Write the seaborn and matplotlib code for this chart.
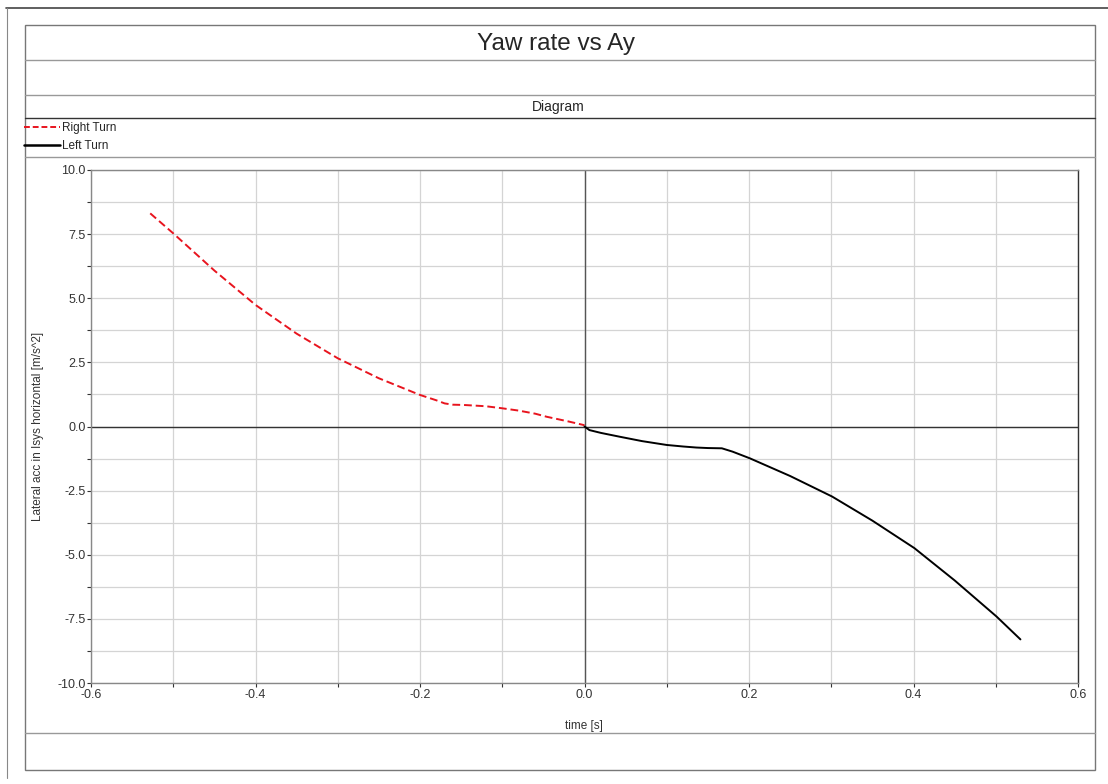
import pandas as pd
import seaborn as sns
import matplotlib.pyplot as plt
from matplotlib.patches import Rectangle
from matplotlib.lines import Line2D
from matplotlib.ticker import MultipleLocator

# Right turn (red dashed)
right_time = [-0.528, -0.50, -0.45, -0.40, -0.35, -0.30, -0.25, -0.20, -0.18,
              -0.17, -0.16, -0.147, -0.12, -0.10, -0.08, -0.06, -0.046, -0.02, 0.0]
right_ay = [8.31, 7.53, 6.08, 4.74, 3.62, 2.66, 1.88, 1.23, 1.02,
            0.90, 0.85, 0.84, 0.79, 0.71, 0.62, 0.50, 0.38, 0.20, 0.05]

# Left turn (black solid)
left_time = [0.0, 0.006, 0.02, 0.043, 0.07, 0.10, 0.12, 0.136, 0.15, 0.167,
             0.18, 0.201, 0.25, 0.301, 0.35, 0.401, 0.45, 0.501, 0.53]
left_ay = [0.0, -0.14, -0.25, -0.40, -0.57, -0.72, -0.78, -0.82, -0.84, -0.85,
           -0.98, -1.24, -1.93, -2.73, -3.67, -4.74, -6.00, -7.41, -8.30]

series_names = ["Right Turn", "Left Turn"]
series_colors = {"Right Turn": "#e8141e", "Left Turn": "black"}

W, H = 1108, 784


def fx(px):
    return px / W


def fy(py):
    return 1 - py / H


sns.set_theme(style="whitegrid")
plt.rcParams["font.family"] = ["Liberation Sans", "DejaVu Sans"]

fig = plt.figure(figsize=(W / 100, H / 100), dpi=100)
fig.patch.set_facecolor("white")

# outer frame and bands
fig.add_artist(Line2D([fx(6), fx(1108)], [fy(8), fy(8)], color="#444444", lw=1.2))
fig.add_artist(Line2D([fx(7), fx(7)], [fy(8), fy(778)], color="#888888", lw=0.8))
fig.add_artist(Rectangle((fx(25), fy(770)), fx(1095) - fx(25), fy(25) - fy(770),
                         fill=False, edgecolor="#777777", lw=1.0))
for py, col in [(60, "#999999"), (95, "#999999"), (118, "#333333"),
                (157, "#999999"), (733, "#999999")]:
    fig.add_artist(Line2D([fx(25), fx(1095)], [fy(py), fy(py)], color=col, lw=1.0))

fig.text(fx(556), fy(44), "Yaw rate vs Ay", ha="center", va="center", fontsize=17.5)
fig.text(fx(558), fy(107), "Diagram", ha="center", va="center", fontsize=10)

ax = fig.add_axes([fx(91), fy(683), fx(1078) - fx(91), fy(170) - fy(683)])

df_right = pd.DataFrame({"time": right_time, "ay": right_ay})
df_left = pd.DataFrame({"time": left_time, "ay": left_ay})
sns.lineplot(data=df_right, x="time", y="ay", ax=ax, color=series_colors["Right Turn"],
             linestyle=(0, (4, 2)), lw=1.4)
sns.lineplot(data=df_left, x="time", y="ay", ax=ax, color=series_colors["Left Turn"],
             lw=1.4)

ax.set_xlim(-0.6, 0.6)
ax.set_ylim(-10, 10)
ax.xaxis.set_major_locator(MultipleLocator(0.2))
ax.xaxis.set_minor_locator(MultipleLocator(0.1))
ax.yaxis.set_major_locator(MultipleLocator(2.5))
ax.yaxis.set_minor_locator(MultipleLocator(1.25))
ax.xaxis.set_major_formatter(plt.FormatStrFormatter("%.1f"))
ax.yaxis.set_major_formatter(plt.FormatStrFormatter("%.1f"))
ax.grid(True, which="both", color="#d4d4d4", lw=0.9)
ax.axhline(0, color="#333333", lw=1.0, zorder=1.5)
ax.axvline(0, color="#555555", lw=1.0, zorder=1.5)
ax.tick_params(which="both", direction="out", length=3, width=0.8, color="#333333",
               labelsize=9, labelcolor="#333333", pad=1, bottom=True, left=True)
for side, sp in ax.spines.items():
    sp.set_color("#888888")
    sp.set_linewidth(1.0)
ax.spines["right"].set_color("#333333")

ax.set_xlabel("time [s]", fontsize=8.5, color="#333333")
ax.set_ylabel("Lateral acc in Isys horizontal [m/s^2]", fontsize=8.5, color="#333333")
ax.xaxis.set_label_coords((584 - 91) / 987, -(720 - 683) / 513)
ax.yaxis.set_label_coords(-(91 - 44) / 987, 0.5)

handles = [Line2D([], [], color=series_colors["Right Turn"], lw=1.4, linestyle=(0, (3, 1.5))),
           Line2D([], [], color=series_colors["Left Turn"], lw=1.8)]
fig.legend(handles, series_names, loc="upper left", bbox_to_anchor=(fx(22), fy(120)),
           frameon=False, fontsize=8.5, handlelength=3.0, handletextpad=0.2,
           labelspacing=0.45, borderpad=0.2, borderaxespad=0)

fig.savefig("out.png", dpi=100, facecolor="white")
